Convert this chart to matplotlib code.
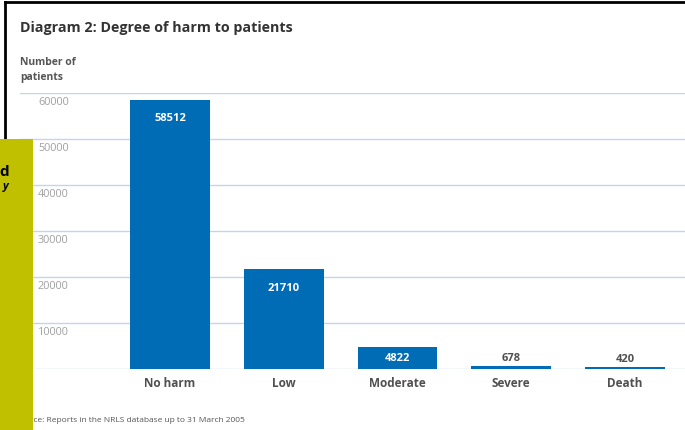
import matplotlib.pyplot as plt
import matplotlib.transforms as mtransforms
from matplotlib.patches import Rectangle

# Degree of harm categories and patient counts
categories = ["No harm", "Low", "Moderate", "Severe", "Death"]
patients = [58512, 21710, 4822, 678, 420]
y_ticks = [0, 10000, 20000, 30000, 40000, 50000, 60000]

bar_color = "#006cb6"
grid_color = "#c3d6e8"

plt.rcParams["font.family"] = ["Open Sans", "DejaVu Sans"]

fig = plt.figure(figsize=(6.85, 4.31), dpi=100)
W, H = 685, 431

# plot area in pixels: left 20, right 685, 0 at y=370, 60000 at y=94
ax = fig.add_axes([20 / W, (H - 370) / H, 665 / W, 276 / H])
x = list(range(len(categories)))
ax.bar(x, patients, width=0.70, color=bar_color, zorder=3)
ax.set_xlim(-1.319, 4.527)
ax.set_ylim(0, 60000)

for s in ax.spines.values():
    s.set_visible(False)
ax.set_yticks(y_ticks)
ax.set_yticklabels([])
ax.tick_params(axis="both", length=0)
ax.grid(axis="y", color=grid_color, linewidth=1.0, zorder=1)
ax.set_xticks(x)
ax.set_xticklabels(categories, fontsize=8.5, color="#505050", fontweight="bold")
ax.tick_params(axis="x", pad=5)

# tick values sit just under each gridline, left aligned
below = mtransforms.ScaledTranslation(0, -3 / 100, fig.dpi_scale_trans)
trans = mtransforms.blended_transform_factory(fig.transFigure, ax.transData) + below
for v in y_ticks[1:]:
    ax.text(38 / W, v, "%d" % v, transform=trans, ha="left", va="top",
            fontsize=7.8, color="#a0a0a0")

# value labels: white inside tall bars, grey above short ones
px_per_unit = 276 / 60000
inside = ax.transData + mtransforms.ScaledTranslation(0, -18 / 100, fig.dpi_scale_trans)
above = ax.transData + mtransforms.ScaledTranslation(0, 3 / 100, fig.dpi_scale_trans)
for xi, v in zip(x, patients):
    if v > 3000:
        if v * px_per_unit > 36:
            ax.text(xi, v, "%d" % v, ha="center", va="center", color="white",
                    fontsize=8, fontweight="bold", zorder=4, transform=inside)
        else:
            ax.text(xi, v / 2, "%d" % v, ha="center", va="center", color="white",
                    fontsize=8, fontweight="bold", zorder=4)
    else:
        ax.text(xi, v, "%d" % v, ha="center", va="bottom", color="#505050",
                fontsize=8, fontweight="bold", zorder=4, transform=above)

fig.text(20 / W, 1 - 28 / H, "Diagram 2: Degree of harm to patients", ha="left", va="center",
         fontsize=10.3, fontweight="bold", color="#333333")
fig.text(20 / W, 1 - 70 / H, "Number of\npatients", ha="left", va="center",
         fontsize=7.5, fontweight="bold", color="#555555", linespacing=1.45)
fig.text(15 / W, 1 - 421 / H, "Source: Reports in the NRLS database up to 31 March 2005",
         ha="left", va="center", fontsize=6, color="#555555")

# frame lines at top and left
fig.add_artist(plt.Line2D([5 / W, 1], [1 - 3 / H, 1 - 3 / H], color="black", linewidth=2))
fig.add_artist(plt.Line2D([5 / W, 5 / W], [1 - 3 / H, 1 - 140 / H], color="black", linewidth=2))

# yellow side panel
fig.add_artist(Rectangle((0, 0), 33 / W, (H - 140) / H, transform=fig.transFigure,
                         facecolor="#c0c000", edgecolor="none", zorder=10))
fig.text(9 / W, 1 - 172 / H, "d", ha="right", va="center", fontsize=11,
         fontweight="bold", color="black", zorder=11)
fig.text(9 / W, 1 - 187 / H, "y", ha="right", va="center", fontsize=8,
         fontweight="bold", style="italic", color="black", zorder=11)

fig.savefig("out.png", dpi=100)
